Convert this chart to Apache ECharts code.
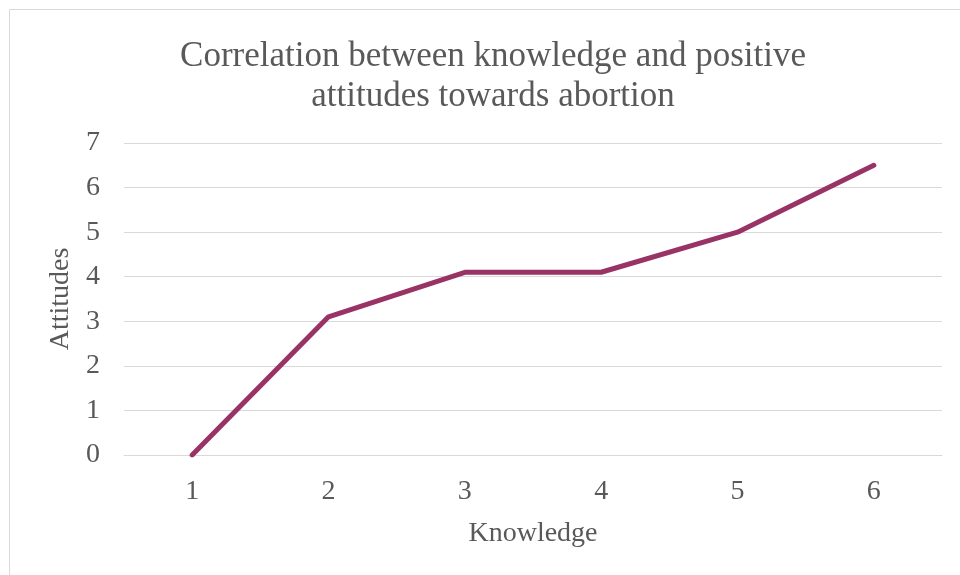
<!DOCTYPE html>
<html>
<head>
<meta charset="utf-8">
<script src="https://cdn.jsdelivr.net/npm/echarts@6/dist/echarts.min.js"></script>
<style>
  html, body { margin: 0; padding: 0; background: #fff; }
  #main { width: 960px; height: 575px; }
</style>
</head>
<body>
<div id="main"></div>
<script>
const knowledge = ["1", "2", "3", "4", "5", "6"];
const attitudes = [0, 3.1, 4.1, 4.1, 5.0, 6.5];

const font = "'Liberation Serif', 'Times New Roman', serif";
const textColor = "#595959";
const gridColor = "#d9d9d9";

const myChart = echarts.init(document.getElementById("main"));
myChart.setOption({
  animation: false,
  textStyle: { fontFamily: font },
  graphic: [
    {
      type: "rect",
      shape: { x: 9.5, y: 9.5, width: 1000, height: 1000 },
      style: { fill: "none", stroke: gridColor, lineWidth: 1 },
      silent: true,
    },
  ],
  title: {
    text: "Correlation between knowledge and positive\nattitudes towards abortion",
    left: 488,
    top: 32,
    textAlign: "center",
    textStyle: {
      fontFamily: font,
      fontSize: 35,
      lineHeight: 40,
      fontWeight: "normal",
      color: textColor,
    },
  },
  grid: {
    left: 124,
    right: 18,
    top: 143,
    bottom: 120,
  },
  xAxis: {
    type: "category",
    data: knowledge,
    boundaryGap: true,
    name: "Knowledge",
    nameLocation: "middle",
    nameGap: 65,
    nameTextStyle: { fontFamily: font, fontSize: 28, color: textColor },
    axisLine: { lineStyle: { color: gridColor, width: 1 } },
    axisTick: { show: false },
    axisLabel: { fontFamily: font, fontSize: 28, color: textColor, margin: 23 },
  },
  yAxis: {
    type: "value",
    min: 0,
    max: 7,
    interval: 1,
    name: "Attitudes",
    nameLocation: "middle",
    nameGap: 49,
    nameTextStyle: { fontFamily: font, fontSize: 28, color: textColor },
    axisLine: { show: false },
    axisTick: { show: false },
    axisLabel: {
      fontFamily: font,
      fontSize: 28,
      color: textColor,
      margin: 24,
      padding: [4, 0, 0, 0],
    },
    splitLine: { lineStyle: { color: gridColor, width: 1 } },
  },
  series: [
    {
      type: "line",
      data: attitudes,
      symbol: "none",
      lineStyle: { color: "#993366", width: 5, cap: "round", join: "round" },
    },
  ],
});
</script>
</body>
</html>
